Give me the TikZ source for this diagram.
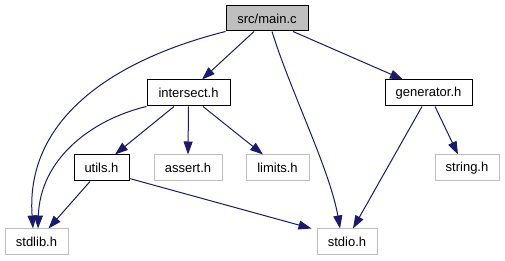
\documentclass[tikz,border=0pt]{standalone}
\usepackage{fontspec}
\setmainfont{Liberation Sans}
\usetikzlibrary{arrows.meta}
\definecolor{edgeblue}{HTML}{191970}
\definecolor{sysgray}{HTML}{BFBFBF}
\begin{document}
\begin{tikzpicture}[x=1pt,y=-1pt,
  file/.style={draw=black,line width=1pt,inner sep=0pt,minimum height=26pt,
    font=\fontsize{13}{15}\selectfont,text=black},
  sysfile/.style={file,draw=sysgray},
  rootfile/.style={file,fill=sysgray},
  dep/.style={draw=edgeblue,line width=1pt,
    -{Triangle[length=13pt,width=9pt]},color=edgeblue}]
\useasboundingbox (0,0) rectangle (505,261);
% header nodes
\node[rootfile,minimum width=82pt,minimum height=25pt] (main) at (267,18.5) {src/main.c};
\node[file,minimum width=83pt] (intersect) at (188.5,93) {intersect.h};
\node[file,minimum width=87pt] (generator) at (428.5,93) {generator.h};
\node[file,minimum width=55pt] (utils) at (101.5,168) {utils.h};
\node[sysfile,minimum width=68pt] (assert) at (188,168) {assert.h};
\node[sysfile,minimum width=63pt] (limits) at (277.5,168) {limits.h};
\node[sysfile,minimum width=64pt] (string) at (467,168) {string.h};
\node[sysfile,minimum width=63pt] (stdlib) at (36.5,242) {stdlib.h};
\node[sysfile,minimum width=60pt] (stdio) at (347,242) {stdio.h};
% include edges
\draw[dep] (main.south west) .. controls (120,58) and (25,115) .. ([xshift=-3.5pt]stdlib.north);
\draw[dep] ([xshift=-13pt]main.south) -- ([xshift=13.5pt]intersect.north);
\draw[dep] ([xshift=5pt]main.south) .. controls (290,90) and (330,170) .. ([xshift=-7pt]stdio.north);
\draw[dep] ([xshift=26pt]main.south) -- ([xshift=-25.5pt]generator.north);
\draw[dep] (intersect.south west) .. controls (90,120) and (40,160) .. ([xshift=1.5pt]stdlib.north);
\draw[dep] ([xshift=-14.5pt]intersect.south) -- ([xshift=13.5pt]utils.north);
\draw[dep] (intersect.south) -- (assert.north);
\draw[dep] ([xshift=14.5pt]intersect.south) -- ([xshift=-14.5pt]limits.north);
\draw[dep] ([xshift=-6.5pt]generator.south) -- ([xshift=6pt]stdio.north);
\draw[dep] ([xshift=6.5pt]generator.south) -- ([xshift=-9pt]string.north);
\draw[dep] ([xshift=-11.5pt]utils.south) -- ([xshift=12pt]stdlib.north);
\draw[dep] ([yshift=3pt]utils.south east) -- ([xshift=-5pt]stdio.north west);
\end{tikzpicture}
\end{document}
